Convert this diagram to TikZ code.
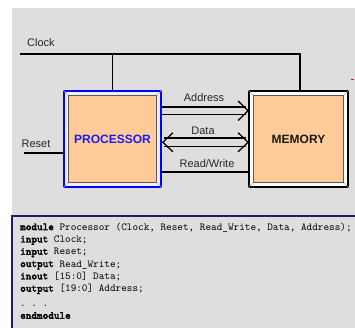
\documentclass[tikz,border=0pt]{standalone}
\usepackage{fontspec}
\setsansfont{Liberation Sans}
\setmonofont{Latin Modern Mono}[BoldFont={Latin Modern Mono}, BoldFeatures={FakeBold=3}]
\usetikzlibrary{arrows.meta,positioning,calc}
\definecolor{panelgray}{HTML}{DEDEDE}
\definecolor{blockfill}{HTML}{FFCC99}
\definecolor{codeblue}{HTML}{1C1C70}
\definecolor{procblue}{HTML}{1A1AFF}

\begin{document}
\begin{tikzpicture}[x=1pt, y=-1pt,
    lbl/.style={font=\sffamily\fontsize{11}{11}\selectfont, text=black!85, inner sep=0pt},
    wire/.style={line width=1.3pt},
    blkname/.style={font=\sffamily\bfseries\fontsize{12}{12}\selectfont}]
    \useasboundingbox (0,0) rectangle (355,327);

    % panels
    \fill[panelgray] (12,8) rectangle (355,216);
    \draw[codeblue, line width=1.2pt, fill=panelgray] (12,216) rectangle (362,334);

    % blocks
    \node[draw=blue, line width=1.8pt, fill=white!88!gray, minimum width=97pt, minimum height=96pt] (proc) at (112.5,139) {};
    \node[draw=gray!70!black, line width=0.8pt, fill=blockfill, minimum width=88pt, minimum height=87pt, blkname, text=procblue] (procin) at (proc.center) {PROCESSOR};
    \node[draw=black, line width=1.8pt, fill=white, minimum width=99pt, minimum height=96pt] (mem) at (298.5,139) {};
    \node[draw=gray!70!black, line width=0.8pt, fill=blockfill, minimum width=90pt, minimum height=87pt, blkname, text=black!90] (memin) at (mem.center) {MEMORY};
    \foreach \c in {north west, north east, south west, south east} {
        \draw[gray!60, line width=0.6pt] (proc.\c) -- (procin.\c);
        \draw[gray!60, line width=0.6pt] (mem.\c) -- (memin.\c);
    }

    % clock
    \node[lbl] (clk) at (41,43) {Clock};
    \coordinate (clkin) at (20,54);
    \coordinate (clkend) at (300,54);
    \draw[wire] (clkin) -- (clkend) -- (clkend |- mem.north);
    \draw[wire] (proc.north) -- (proc.north |- clkin);

    % reset
    \node[lbl] (rst) at (36,144) {Reset};
    \coordinate (rstin) at (24,153);
    \draw[wire] (rstin) -- (rstin -| proc.west);

    % address bus
    \node[lbl] (addr) at (204,98) {Address};
    \draw[wire] ($(proc.east)+(0,-32)$) -- ($(mem.west)+(-2,-32)$);
    \draw[wire] ($(proc.east)+(0,-24.5)$) -- ($(mem.west)+(-2,-24.5)$);
    \draw[wire] ($(mem.west)+(-10,-38)$) -- ($(mem.west)+(0,-28.25)$) -- ($(mem.west)+(-10,-18.5)$);

    % data bus
    \node[lbl] (data) at (203,131) {Data};
    \draw[wire] ($(proc.east)+(2,-1)$) -- ($(mem.west)+(-2,-1)$);
    \draw[wire] ($(proc.east)+(2,7.5)$) -- ($(mem.west)+(-2,7.5)$);
    \draw[wire] ($(proc.east)+(11,-6.25)$) -- ($(proc.east)+(1,3.25)$) -- ($(proc.east)+(11,12.75)$);
    \draw[wire] ($(mem.west)+(-10,-6.25)$) -- ($(mem.west)+(0,3.25)$) -- ($(mem.west)+(-10,12.75)$);

    % read/write
    \node[lbl] (rw) at (207,164) {Read/Write};
    \draw[wire] ($(proc.east)+(0,33)$) -- ($(mem.west)+(0,33)$);

    \draw[red!80!magenta, line width=1pt] (351,79.5) -- (354,79.5);

    % verilog module
    \node[anchor=north west, inner sep=0pt, align=left, font=\ttfamily\fontsize{10.7}{12.3}\selectfont] (code) at (20,222.5) {%
        \textbf{module} Processor (Clock, Reset, Read\_Write, Data, Address);\\
        \textbf{input} Clock;\\
        \textbf{input} Reset;\\
        \textbf{output} Read\_Write;\\
        \textbf{inout} [15:0] Data;\\
        \textbf{output} [19:0] Address;\\[2.5pt]
        . . .\\
        \textbf{endmodule}};
\end{tikzpicture}
\end{document}
